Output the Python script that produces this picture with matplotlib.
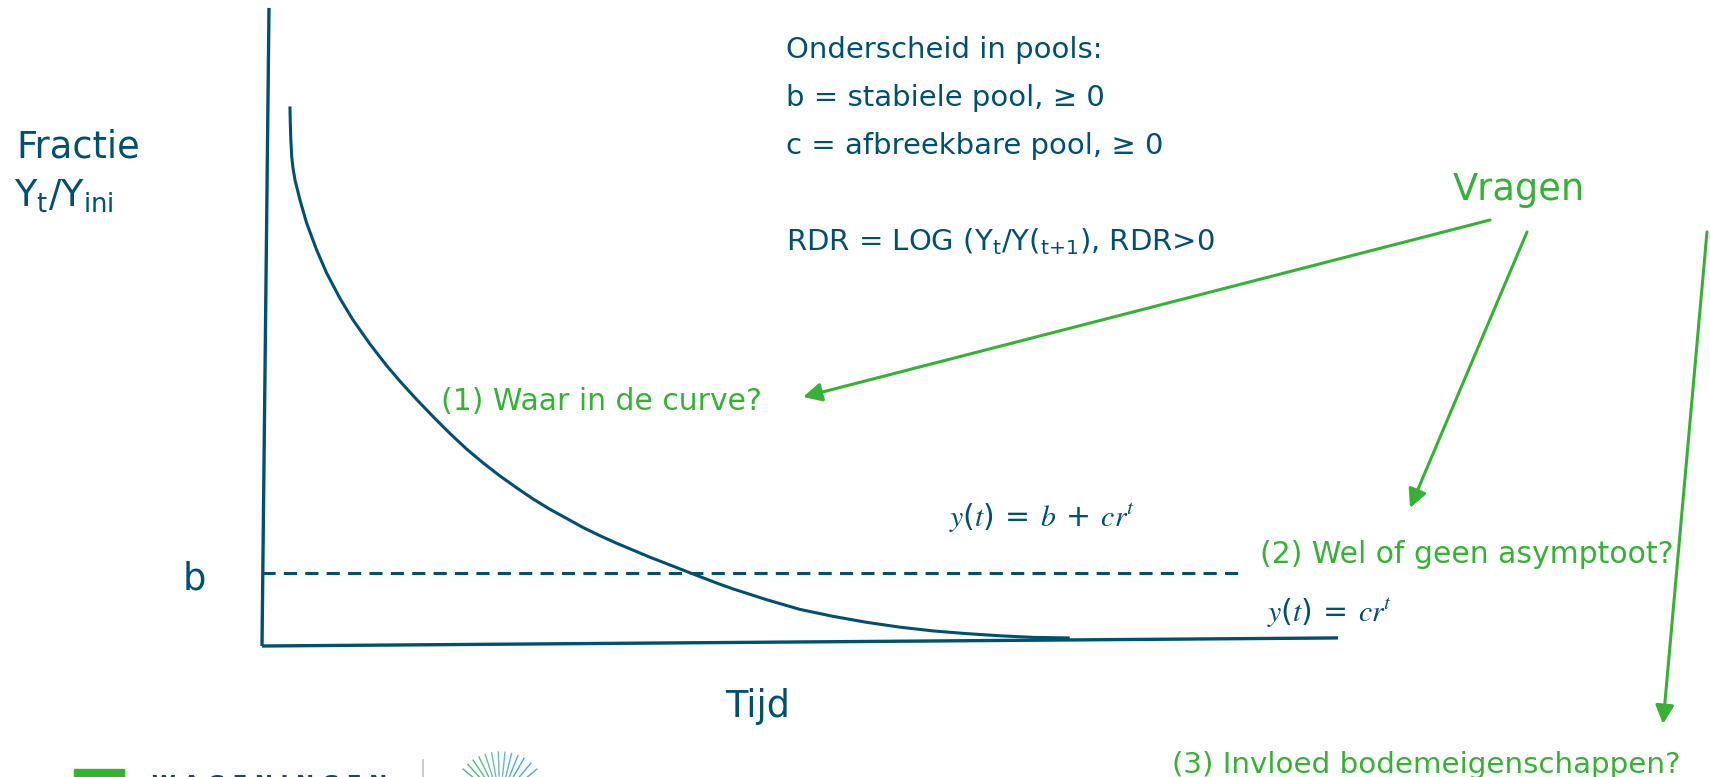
import matplotlib.pyplot as plt
import numpy as np

plt.rcParams['font.family'] = ['DejaVu Sans']
plt.rcParams['mathtext.default'] = 'regular'

BLUE = '#00506f'
GREEN = '#35b234'

# decay curve (tijd 0..10, fractie 0..1)
tijd = [0.260, 0.263, 0.268, 0.276, 0.288, 0.307, 0.353, 0.415, 0.508,
        0.601, 0.725, 0.846, 1.004, 1.159, 1.283, 1.438, 1.592, 1.747,
        1.902, 2.057, 2.212, 2.367, 2.521, 2.677, 2.832, 2.986, 3.141,
        3.296, 3.451, 3.606, 3.761, 3.978, 4.226, 4.380, 4.691, 5.000,
        5.310, 5.620, 5.929, 6.239, 6.549, 6.859, 7.168, 7.493]
fractie = [1.000, 0.972, 0.941, 0.910, 0.888, 0.866, 0.829, 0.786, 0.736,
           0.693, 0.646, 0.606, 0.561, 0.521, 0.492, 0.458, 0.426, 0.395,
           0.366, 0.340, 0.316, 0.294, 0.273, 0.254, 0.237, 0.220, 0.205,
           0.191, 0.178, 0.165, 0.153, 0.136, 0.117, 0.106, 0.086, 0.068,
           0.055, 0.044, 0.035, 0.028, 0.023, 0.019, 0.016, 0.015]
b_level = 0.135
b_end = 9.09

# hand drawn axes (slightly tilted on the slide)
y_axis_t = [0.0, 0.065]
y_axis_y = [0.0, 1.186]
x_axis_t = [0.0, 10.0]
x_axis_y = [0.0, 0.015]

pool_lines = ['Onderscheid in pools:',
              'b = stabiele pool, \u2265 0',
              'c = afbreekbare pool, \u2265 0',
              '',
              'RDR = LOG $(Y_t/Y(_{t{+}1})$, RDR>0']

vragen = ['(1) Waar in de curve?',
          '(2) Wel of geen asymptoot?',
          '(3) Invloed bodemeigenschappen?']
# arrows from "Vragen" (pixel coords of the slide)
pijl_start = [(1490, 220), (1527, 232), (1707, 232)]
pijl_eind = [(803, 397), (1410, 508), (1663, 724)]

fig = plt.figure(figsize=(17.1, 7.77), dpi=100)

# overlay in slide pixels
ax0 = fig.add_axes([0, 0, 1, 1])
ax0.set_xlim(0, 1710)
ax0.set_ylim(777, 0)
ax0.axis('off')

# chart area
ax = fig.add_axes([262 / 1710, (777 - 646) / 777, 1076 / 1710, 538 / 777])
ax.set_xlim(0, 10)
ax.set_ylim(0, 1)
ax.axis('off')

ax.plot(y_axis_t, y_axis_y, color=BLUE, lw=2.4, clip_on=False,
        solid_capstyle='butt')
ax.plot(x_axis_t, x_axis_y, color=BLUE, lw=2.4, clip_on=False,
        solid_capstyle='butt')
ax.plot(tijd, fractie, color=BLUE, lw=2.2, clip_on=False,
        solid_joinstyle='round')
ax.plot([0, b_end], [b_level, b_level], color=BLUE, lw=2.2,
        dashes=(4.3, 2.7), clip_on=False)

# labels
ax0.text(16, 158, 'Fractie', fontsize=26.5, color=BLUE, va='baseline')
ax0.text(14, 207, '$Y_t/Y_{ini}$', fontsize=26.5, color=BLUE, va='baseline')
ax0.text(183, 590, 'b', fontsize=26.5, color=BLUE, va='baseline')
ax0.text(725, 717, 'Tijd', fontsize=26.5, color=BLUE, va='baseline')

for i, line in enumerate(pool_lines):
    ax0.text(786, 58 + i * 48, line, fontsize=21, color=BLUE, va='baseline')

ax0.text(949, 527,
         r'$\mathit{y}(\mathit{t})\;=\;\mathit{b}\;+\;\mathit{cr}^{\mathit{t}}$',
         fontsize=21.5, color=BLUE, va='baseline', math_fontfamily='stix')
ax0.text(1267, 622, r'$\mathit{y}(\mathit{t})\;=\;\mathit{cr}^{\mathit{t}}$',
         fontsize=21.5, color=BLUE, va='baseline', math_fontfamily='stix')

ax0.text(1453, 200, 'Vragen', fontsize=26.5, color=GREEN, va='baseline')
ax0.text(441, 410, vragen[0], fontsize=21.5, color=GREEN, va='baseline')
ax0.text(1260, 563, vragen[1], fontsize=21.5, color=GREEN, va='baseline')
ax0.text(1172, 773, vragen[2], fontsize=21.2, color=GREEN, va='baseline')

for s, e in zip(pijl_start, pijl_eind):
    ax0.annotate('', xy=e, xytext=s,
                 arrowprops=dict(arrowstyle='-|>', color=GREEN, lw=2.2,
                                 mutation_scale=28, shrinkA=0, shrinkB=0))

# logo strip at the bottom, mostly cut off
ax0.add_patch(plt.Rectangle((74, 769), 50, 10, color=GREEN))
ax0.text(152, 775, 'W A G E N I N G E N', fontsize=15.5, color=BLUE,
         va='top', fontweight='bold')
ax0.plot([423, 423], [760, 777], color='#c0c0c0', lw=1.2)
fan_angles = [40, 50, 60, 68, 76, 84, 92, 100, 108, 116, 124, 132, 140]
fan_colors = ['#4aa3e8', '#4aa3e8', '#4aa3e8', '#58a8e0', '#62aedb',
              '#6ab3d2', '#6cb8c0', '#6cbca8', '#6cbf98', '#5cbf8c',
              '#52bd84', '#4cbb7c', '#46b874']
for a, c in zip(fan_angles, fan_colors):
    r = np.radians(a)
    ax0.plot([500 + 24 * np.cos(r), 500 + 48 * np.cos(r)],
             [800 - 24 * np.sin(r), 800 - 48 * np.sin(r)],
             color=c, lw=1.0)

fig.savefig('out.png', dpi=100)
